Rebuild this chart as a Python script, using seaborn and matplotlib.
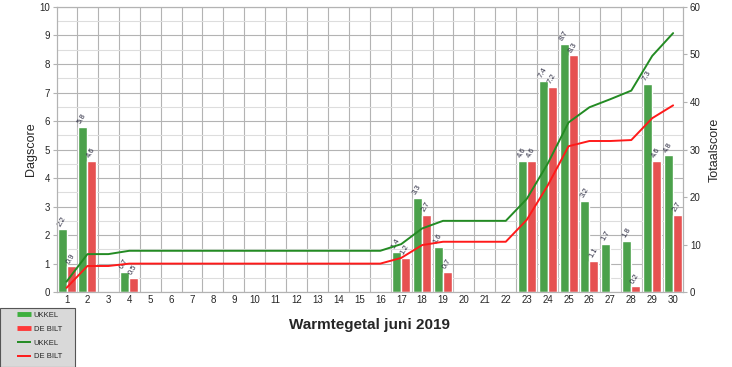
import numpy as np
import pandas as pd
import seaborn as sns
import matplotlib.pyplot as plt
from matplotlib.lines import Line2D
from matplotlib.patches import Rectangle
from matplotlib.ticker import MultipleLocator

days = list(range(1, 31))
ukkel = [2.2, 5.8, 0, 0.7, 0, 0, 0, 0, 0, 0, 0, 0, 0, 0, 0, 0,
         1.4, 3.3, 1.6, 0, 0, 0, 4.6, 7.4, 8.7, 3.2, 1.7, 1.8, 7.3, 4.8]
debilt = [0.9, 4.6, 0, 0.5, 0, 0, 0, 0, 0, 0, 0, 0, 0, 0, 0, 0,
          1.2, 2.7, 0.7, 0, 0, 0, 4.6, 7.2, 8.3, 1.1, 0, 0.2, 4.6, 2.7]
stations = ["UKKEL", "DE BILT"]

bar_colors = ["#3daf3d", "#ff3838"]
line_colors = ["#238b23", "#ff1a1a"]

df = pd.DataFrame({
    "dag": days * 2,
    "score": ukkel + debilt,
    "station": [stations[0]] * 30 + [stations[1]] * 30,
})
cum = pd.DataFrame({
    "pos": list(range(30)) * 2,
    "totaal": list(np.cumsum(ukkel)) + list(np.cumsum(debilt)),
    "station": [stations[0]] * 30 + [stations[1]] * 30,
})

sns.set_style("white")
plt.rcParams['font.family'] = ['Liberation Sans', 'DejaVu Sans']

fig = plt.figure(figsize=(7.32, 3.67), dpi=100)
ax = fig.add_axes([0.078, 0.204, 0.855, 0.777])

sns.barplot(data=df, x="dag", y="score", hue="station", palette=bar_colors,
            width=0.86, gap=0, ax=ax, legend=False, zorder=2)

# value labels above bars
for cont in ax.containers:
    for bar in cont:
        h = bar.get_height()
        if h > 0:
            ax.text(bar.get_x() + bar.get_width() * 0.5, h + 0.06, f"{h:g}",
                    rotation=60, fontsize=5.5, color="#2a2a40",
                    ha="left", va="bottom", rotation_mode="anchor", zorder=3)

ax.set_ylim(0, 10)
ax.set_xlim(-0.45, 29.47)
ax.yaxis.set_major_locator(MultipleLocator(1))
ax.yaxis.set_minor_locator(MultipleLocator(0.5))
ax.set_xticks(np.arange(-0.5, 30, 1), minor=True)
ax.grid(axis="y", which="major", color="#b3b3b3", lw=0.8, zorder=0)
ax.grid(axis="y", which="minor", color="#dddddd", lw=0.8, zorder=0)
ax.grid(axis="x", which="minor", color="#b3b3b3", lw=0.8, zorder=0)
ax.grid(axis="x", which="major", visible=False)
ax.set_axisbelow(True)
ax.tick_params(axis="both", which="major", labelsize=7, length=3, color="#b3b3b3", pad=2)
ax.tick_params(axis="y", which="minor", length=0)
ax.tick_params(axis="x", which="major", length=0)
ax.tick_params(axis="x", which="minor", length=3, color="#b3b3b3")
ax.set_xlabel("")
ax.set_ylabel("Dagscore", fontsize=9, labelpad=2)
for s in ax.spines.values():
    s.set_color("#b3b3b3")

ax2 = ax.twinx()
sns.lineplot(data=cum, x="pos", y="totaal", hue="station", palette=line_colors,
             lw=1.4, ax=ax2, legend=False)
ax2.set_ylim(0, 60)
ax2.yaxis.set_major_locator(MultipleLocator(10))
ax2.tick_params(axis="y", labelsize=7, length=3, color="#b3b3b3", pad=2)
ax2.set_ylabel("Totaalscore", fontsize=9, labelpad=6)
for s in ax2.spines.values():
    s.set_color("#b3b3b3")
ax.set_xlim(-0.45, 29.47)

fig.text(0.505, 0.115, "Warmtegetal juni 2019", ha="center", va="center",
         fontsize=11, fontweight="bold")

# legend box in the lower-left corner
fig.patches.append(Rectangle((0.0, 0.0), 75 / 732, 59 / 367, transform=fig.transFigure,
                             facecolor="#d9d9d9", edgecolor="#555555", lw=0.8,
                             figure=fig, zorder=1))
handles = [Line2D([], [], color=bar_colors[0], lw=3.5, solid_capstyle="butt"),
           Line2D([], [], color=bar_colors[1], lw=3.5, solid_capstyle="butt"),
           Line2D([], [], color=line_colors[0], lw=1.4, solid_capstyle="butt"),
           Line2D([], [], color=line_colors[1], lw=1.4, solid_capstyle="butt")]
leg = fig.legend(handles, ["UKKEL", "DE BILT", "UKKEL", "DE BILT"],
                 loc="center left", bbox_to_anchor=(17 / 732, 31 / 367), fontsize=5.5,
                 frameon=False, handlelength=1.8, borderpad=0,
                 labelspacing=0.85, handletextpad=0.4, borderaxespad=0)

fig.savefig("out.png", dpi=100)
